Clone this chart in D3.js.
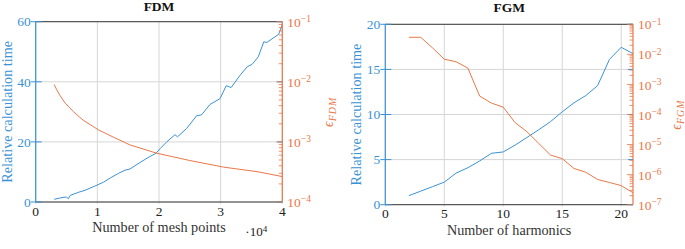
<!DOCTYPE html>
<html>
<head>
<meta charset="utf-8">
<script src="https://cdn.jsdelivr.net/npm/d3@7"></script>
<style>
  body { margin: 0; background: #fff; }
  svg { display: block; }
  svg text { font-family: "Liberation Serif", serif; }
</style>
</head>
<body>
<svg id="chart" width="685" height="249"></svg>
<script>
// ---- data ----
// FDM: relative calculation time vs number of mesh points
var fdmTimeMesh = [3000, 3900, 4600, 5000, 5300, 5600, 6900, 8000, 9600, 11000, 12100, 13400, 14500, 15300,
                   16800, 18400, 19500, 20200, 21300, 22600, 23000, 24500, 26100, 26900, 28300, 29900,
                   30900, 31700, 33200, 34300, 35100, 36100, 37000, 37500, 39400, 40000];
var fdmTime = [0.9, 1.3, 1.6, 1.6, 1.1, 2.2, 3.2, 3.9, 5.3, 6.6, 8.0, 9.5, 10.6, 11.0,
               13.0, 15.0, 16.2, 17.8, 20.1, 22.4, 21.7, 24.5, 28.7, 29.0, 32.5, 34.4,
               38.7, 38.1, 42.3, 45.0, 45.8, 48.3, 53.3, 53.1, 55.8, 59.0];
// FDM: error vs number of mesh points
var fdmErrMesh = [3000, 3400, 3900, 4800, 6100, 7700, 10200, 12600, 15300, 19600, 25000, 30500, 35900, 40000];
var fdmErr = [9.0e-3, 7.4e-3, 6.0e-3, 4.4e-3, 3.2e-3, 2.3e-3, 1.58e-3, 1.2e-3, 8.9e-4, 6.5e-4, 4.9e-4, 3.8e-4, 3.2e-4, 2.65e-4];

// FGM: relative calculation time and error vs number of harmonics
var fgmHarmonics = [2, 3, 4, 5, 6, 7, 8, 9, 10, 11, 12, 13, 14, 15, 16, 17, 18, 19, 20, 21];
var fgmTime = [1.0, 1.5, 2.0, 2.5, 3.5, 4.1, 4.85, 5.7, 5.85, 6.6, 7.45, 8.3, 9.2, 10.3, 11.3, 12.1, 13.2, 16.1, 17.45, 16.75];
var fgmErr = [3.7e-2, 3.7e-2, 1.65e-2, 6.9e-3, 5.7e-3, 3.5e-3, 4.1e-4, 2.4e-4, 1.75e-4, 5.4e-5, 2.7e-5, 1.1e-5,
              4.5e-6, 3.4e-6, 1.6e-6, 1.2e-6, 6.9e-7, 5.5e-7, 4.3e-7, 2.5e-7];

// tick values
var fdmXTicks = [0, 10000, 20000, 30000, 40000];
var fdmYTicks = [0, 20, 40, 60];
var fgmXTicks = [0, 5, 10, 15, 20];
var fgmYTicks = [0, 5, 10, 15, 20];

var BLUE = "#3a93d6", ORANGE = "#ea7748", GRID = "#d6d6d6", SPINE = "#3a3a3a";

var svg = d3.select("#chart");

function drawPanel(p) {
    var g = svg.append("g");

    var x = d3.scaleLinear().domain(p.xDomain).range([p.left, p.right]);
    var y = d3.scaleLinear().domain(p.yDomain).range([p.bottom, p.top]);
    var yr = d3.scaleLog().domain(p.errDomain).range([p.bottom, p.top]);

    // grid
    g.append("g").selectAll("line").data(p.xTicks).join("line")
        .attr("x1", d => x(d)).attr("x2", d => x(d))
        .attr("y1", p.top).attr("y2", p.bottom + 2)
        .attr("stroke", GRID).attr("stroke-width", 1);
    g.append("g").selectAll("line").data(p.yTicks).join("line")
        .attr("x1", p.left).attr("x2", p.right)
        .attr("y1", d => y(d)).attr("y2", d => y(d))
        .attr("stroke", GRID).attr("stroke-width", 1);

    // lines
    var timeLine = d3.line().x(d => x(d[0])).y(d => y(d[1]));
    var errLine = d3.line().x(d => x(d[0])).y(d => yr(d[1]));

    g.append("path")
        .datum(d3.zip(p.timeX, p.timeY))
        .attr("fill", "none").attr("stroke", BLUE).attr("stroke-width", 1)
        .attr("d", timeLine);
    g.append("path")
        .datum(d3.zip(p.errX, p.errY))
        .attr("fill", "none").attr("stroke", ORANGE).attr("stroke-width", 1)
        .attr("d", errLine);

    // spines
    g.append("line").attr("x1", p.left).attr("x2", p.right).attr("y1", p.top).attr("y2", p.top)
        .attr("stroke", SPINE).attr("stroke-width", 1);
    g.append("line").attr("x1", p.left).attr("x2", p.right).attr("y1", p.bottom).attr("y2", p.bottom)
        .attr("stroke", SPINE).attr("stroke-width", 1);
    g.append("line").attr("x1", p.left).attr("x2", p.left).attr("y1", p.top).attr("y2", p.bottom)
        .attr("stroke", BLUE).attr("stroke-width", 1.2);
    g.append("line").attr("x1", p.right).attr("x2", p.right).attr("y1", p.top).attr("y2", p.bottom)
        .attr("stroke", ORANGE).attr("stroke-width", 1.2);

    // left ticks (centered on axis) + mirrored on right
    g.append("g").selectAll("line").data(p.yTicks).join("line")
        .attr("x1", p.left - 5).attr("x2", p.left + 6)
        .attr("y1", d => y(d)).attr("y2", d => y(d))
        .attr("stroke", BLUE).attr("stroke-width", 1);
    g.append("g").selectAll("line").data(p.yTicks).join("line")
        .attr("x1", p.right - 5).attr("x2", p.right)
        .attr("y1", d => y(d)).attr("y2", d => y(d))
        .attr("stroke", BLUE).attr("stroke-width", 1);

    // left tick labels
    g.append("g").selectAll("text").data(p.yTicks).join("text")
        .attr("x", p.left - 5).attr("y", d => y(d)).attr("dy", "0.35em")
        .attr("text-anchor", "end").attr("font-size", 13.5).attr("fill", BLUE)
        .text(d => d);

    // right log ticks
    var logTicks = yr.ticks();
    g.append("g").selectAll("line").data(logTicks).join("line")
        .attr("x1", d => p.right - (isMajor(d) ? 6 : 3.5)).attr("x2", p.right)
        .attr("y1", d => yr(d)).attr("y2", d => yr(d))
        .attr("stroke", ORANGE).attr("stroke-width", 0.8);

    var majors = logTicks.filter(isMajor);
    var lab = g.append("g").selectAll("text").data(majors).join("text")
        .attr("x", p.right + 5).attr("y", d => yr(d)).attr("dy", "0.38em")
        .attr("font-size", 13.5).attr("fill", ORANGE);
    lab.append("tspan").text("10");
    lab.append("tspan").attr("dy", "-0.5em").attr("font-size", 9.5)
        .text(d => "\u2212" + Math.round(-Math.log10(d)));

    // x tick labels
    g.append("g").selectAll("text").data(p.xTicks).join("text")
        .attr("x", d => x(d)).attr("y", p.bottom + 13.5)
        .attr("text-anchor", "middle").attr("font-size", 13.5).attr("fill", "#222")
        .text(p.xFormat);

    // titles & labels
    g.append("text")
        .attr("x", (p.left + p.right) / 2).attr("y", p.titleY)
        .attr("text-anchor", "middle").attr("font-size", 13.5).attr("font-weight", "bold")
        .attr("fill", "#111")
        .text(p.title);

    g.append("text")
        .attr("x", (p.left + p.right) / 2).attr("y", p.bottom + 30)
        .attr("text-anchor", "middle").attr("font-size", 14.2).attr("fill", "#333")
        .text(p.xLabel);

    g.append("text")
        .attr("transform", `translate(${p.yLabelX},${(p.top + p.bottom) / 2}) rotate(-90)`)
        .attr("dy", "0.35em")
        .attr("text-anchor", "middle").attr("font-size", 14.2).attr("fill", BLUE)
        .text("Relative calculation time");

    var er = g.append("text")
        .attr("transform", `translate(${p.errLabelX},${(p.top + p.bottom) / 2}) rotate(-90)`)
        .attr("dy", "0.1em")
        .attr("text-anchor", "middle").attr("font-size", 14).attr("fill", ORANGE)
        .attr("font-style", "italic");
    er.append("tspan").text("\u03F5");
    er.append("tspan").attr("dy", "0.3em").attr("font-size", 10).attr("letter-spacing", 1).text(p.errSub);

    if (p.scaleNote) {
        var sn = g.append("text")
            .attr("x", p.right - 37).attr("y", p.bottom + 34)
            .attr("font-size", 13).attr("fill", "#222");
        sn.append("tspan").text("\u00B710");
        sn.append("tspan").attr("dy", "-0.45em").attr("font-size", 9).text("4");
    }
}

function isMajor(d) {
    var e = Math.log10(d);
    return Math.abs(e - Math.round(e)) < 1e-6;
}

drawPanel({
    left: 35.7, right: 282.3, top: 21.7, bottom: 202,
    xDomain: [0, 40000], yDomain: [0, 60], errDomain: [1e-4, 1e-1],
    xTicks: fdmXTicks, yTicks: fdmYTicks,
    xFormat: d => d / 10000,
    timeX: fdmTimeMesh, timeY: fdmTime, errX: fdmErrMesh, errY: fdmErr,
    title: "FDM", titleY: 10.5, xLabel: "Number of mesh points",
    yLabelX: 7.5, errLabelX: 331.5, errSub: "FDM", scaleNote: true
});

drawPanel({
    left: 385.3, right: 633, top: 24.3, bottom: 204.7,
    xDomain: [0, 21], yDomain: [0, 20], errDomain: [1e-7, 1e-1],
    xTicks: fgmXTicks, yTicks: fgmYTicks,
    xFormat: d => d,
    timeX: fgmHarmonics, timeY: fgmTime, errX: fgmHarmonics, errY: fgmErr,
    title: "FGM", titleY: 12, xLabel: "Number of harmonics",
    yLabelX: 356.5, errLabelX: 680, errSub: "FGM", scaleNote: false
});
</script>
</body>
</html>
